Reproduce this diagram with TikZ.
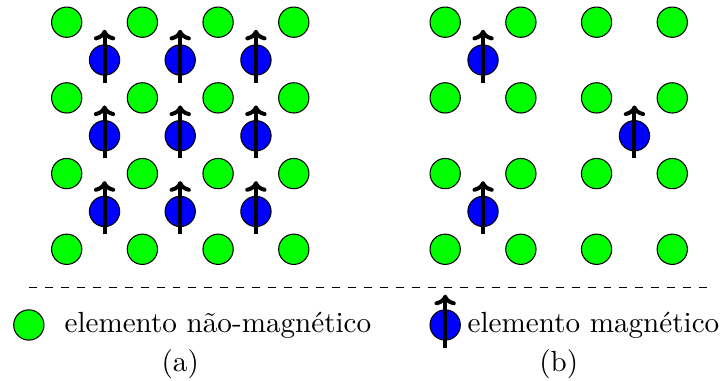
\documentclass[tikz,border=0pt]{standalone}
\usetikzlibrary{arrows.meta}
\begin{document}
\begin{tikzpicture}[
  font=\fontsize{10.95}{13.6}\selectfont,
  nonmag/.style={circle, draw=black, fill=green, minimum size=0.4cm, inner sep=0pt},
  mag/.style={circle, draw=black, fill=blue, minimum size=0.4cm, inner sep=0pt},
  spin/.style={-{To[length=4pt, width=8pt]}, line width=1.5pt},
  legend/.style={anchor=west, inner sep=0pt}]
\useasboundingbox (-0.881,-1.727) rectangle (8.670,3.293);
% green lattices
\foreach \p/\ox in {a/0, b/5} {
  \foreach \i in {0,...,3} {
    \foreach \j in {0,...,3} {
      \node[nonmag] (\p g\i\j) at (\ox+\i,\j) {};
    }
  }
}
% (a) magnetic atoms
\foreach \i in {0,1,2} {
  \foreach \j in {0,1,2} {
    \node[mag] (am\i\j) at (\i+0.5,\j+0.5) {};
    \draw[spin] ([yshift=-0.3cm]am\i\j.center) -- ([yshift=0.4cm]am\i\j.center);
  }
}
% (b) magnetic atoms
\foreach \n/\x/\y in {1/5.5/2.5, 2/7.5/1.5, 3/5.5/0.5} {
  \node[mag] (bm\n) at (\x,\y) {};
  \draw[spin] ([yshift=-0.3cm]bm\n.center) -- ([yshift=0.4cm]bm\n.center);
}
% separator
\coordinate (dl) at (-0.5,-0.5);
\coordinate (dr) at (8.5,-0.5);
\draw[dashed] (dl) -- (dr);
% legend
\node[nonmag] (lg) at (-0.5,-1) {};
\node[legend] (lgt) at (-0.035,-1) {elemento não-magnético};
\node[mag] (lm) at (5,-1) {};
\draw[spin] ([yshift=-0.3cm]lm.center) -- ([yshift=0.4cm]lm.center);
\node[legend] (lmt) at (5.29,-1) {elemento magnético};
% captions
\node (capa) at (1.5,-1.52) {(a)};
\node (capb) at (6.5,-1.52) {(b)};
\end{tikzpicture}
\end{document}
